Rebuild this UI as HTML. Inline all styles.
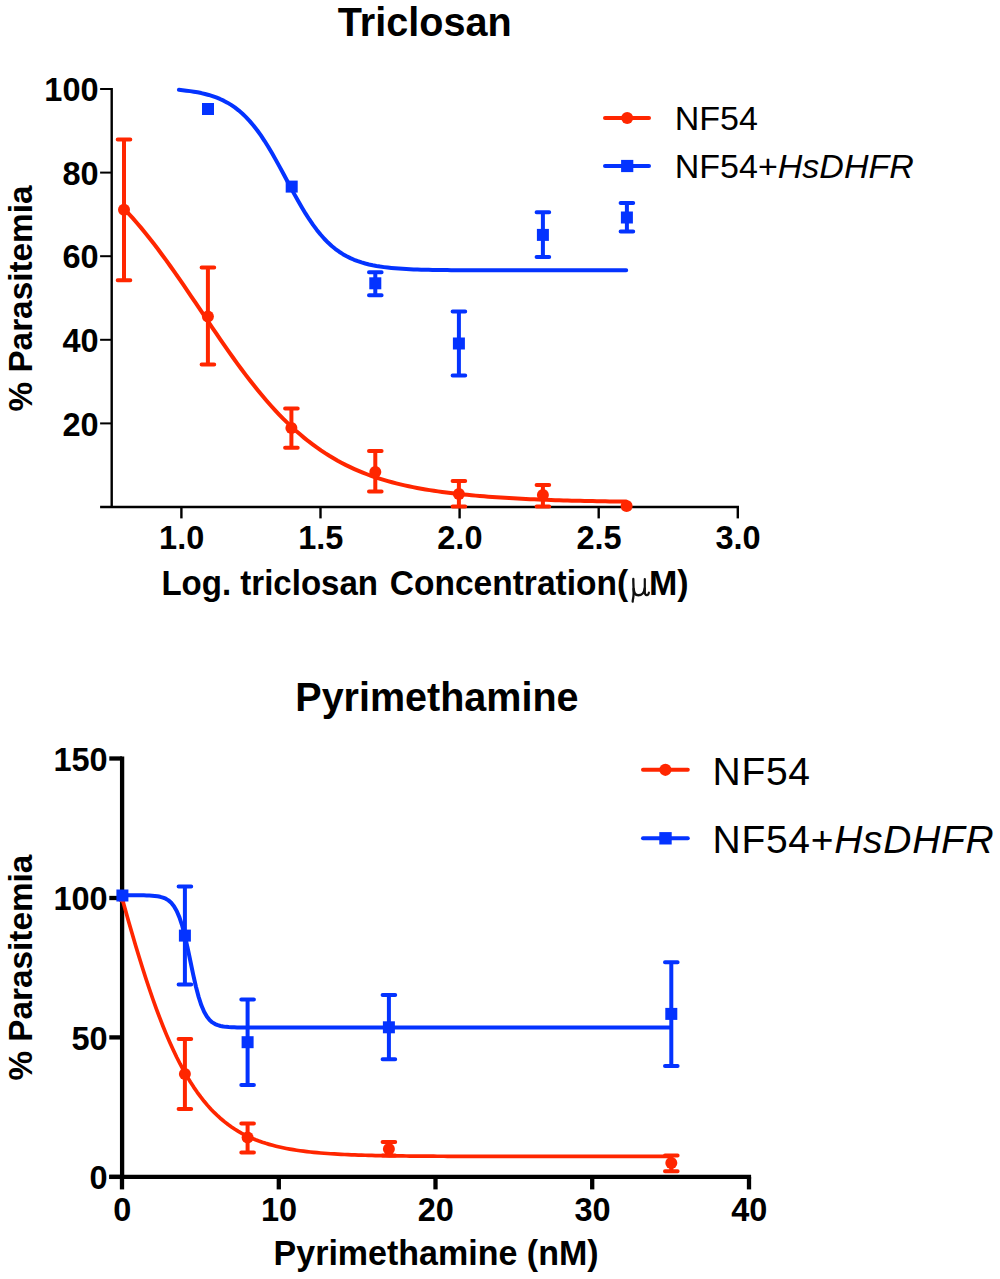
<!DOCTYPE html>
<html><head><meta charset="utf-8"><title>Dose response</title>
<style>
html,body{margin:0;padding:0;background:#fff;}
svg{display:block;font-family:"Liberation Sans",sans-serif;}
</style></head><body>
<svg width="1000" height="1279" viewBox="0 0 1000 1279">
<rect width="1000" height="1279" fill="#fff"/>
<path d="M111.7,88.0 V508.2 M100.1,507.0 H739" stroke="#000" stroke-width="2.4" fill="none"/>
<path d="M100.1,423.4 H111.7" stroke="#000" stroke-width="2"/>
<text x="98.6" y="435.5" font-size="32.5" font-weight="bold" text-anchor="end" >20</text>
<path d="M100.1,339.8 H111.7" stroke="#000" stroke-width="2"/>
<text x="98.6" y="351.9" font-size="32.5" font-weight="bold" text-anchor="end" >40</text>
<path d="M100.1,256.2 H111.7" stroke="#000" stroke-width="2"/>
<text x="98.6" y="268.3" font-size="32.5" font-weight="bold" text-anchor="end" >60</text>
<path d="M100.1,172.6 H111.7" stroke="#000" stroke-width="2"/>
<text x="98.6" y="184.7" font-size="32.5" font-weight="bold" text-anchor="end" >80</text>
<path d="M100.1,89.0 H111.7" stroke="#000" stroke-width="2"/>
<text x="98.6" y="101.1" font-size="32.5" font-weight="bold" text-anchor="end" >100</text>
<path d="M181.4,507.0 V518.4" stroke="#000" stroke-width="2.4"/>
<text x="181.7" y="549.0" font-size="32.5" font-weight="bold" text-anchor="middle" >1.0</text>
<path d="M320.5,507.0 V518.4" stroke="#000" stroke-width="2.4"/>
<text x="320.8" y="549.0" font-size="32.5" font-weight="bold" text-anchor="middle" >1.5</text>
<path d="M459.6,507.0 V518.4" stroke="#000" stroke-width="2.4"/>
<text x="459.9" y="549.0" font-size="32.5" font-weight="bold" text-anchor="middle" >2.0</text>
<path d="M598.7,507.0 V518.4" stroke="#000" stroke-width="2.4"/>
<text x="599.0" y="549.0" font-size="32.5" font-weight="bold" text-anchor="middle" >2.5</text>
<path d="M737.8,507.0 V518.4" stroke="#000" stroke-width="2.4"/>
<text x="738.1" y="549.0" font-size="32.5" font-weight="bold" text-anchor="middle" >3.0</text>
<text x="424.7" y="35.8" font-size="41" font-weight="bold" text-anchor="middle" textLength="173.8" lengthAdjust="spacingAndGlyphs">Triclosan</text>
<text x="161.4" y="595.4" font-size="34.5" font-weight="bold" text-anchor="start" textLength="216.6" lengthAdjust="spacingAndGlyphs">Log. triclosan</text>
<text x="389.8" y="595.4" font-size="34.5" font-weight="bold" text-anchor="start" textLength="238.3" lengthAdjust="spacingAndGlyphs">Concentration(</text>
<g fill="none" stroke="#111" stroke-linecap="round" stroke-linejoin="round"><path d="M633.3,579 C633.3,586 634.2,594 633.2,598 C632.9,599.6 632.6,600.8 632.7,601.6" stroke-width="2.3"/><path d="M633.7,589 C633.9,593.4 635.6,595.2 638.3,595.2 C641.6,595.2 644.3,592.6 644.7,588.5" stroke-width="2.5"/><path d="M644.8,579 L644.8,591.5 C644.8,594.4 645.7,595.3 646.9,595.2 C648,595.1 648.6,594.2 648.9,592.6" stroke-width="2.2"/></g>
<text x="649.0" y="595.4" font-size="34.5" font-weight="bold" text-anchor="start" textLength="39.6" lengthAdjust="spacingAndGlyphs">M)</text>
<text transform="translate(32,298.5) rotate(-90)" font-size="34" font-weight="bold" text-anchor="middle" textLength="226" lengthAdjust="spacingAndGlyphs">% Parasitemia</text>
<path d="M124.41,209.03 L128.59,213.52 L132.77,218.16 L136.95,222.95 L141.14,227.90 L145.32,232.99 L149.50,238.22 L153.68,243.58 L157.86,249.08 L162.04,254.69 L166.23,260.41 L170.41,266.24 L174.59,272.16 L178.77,278.16 L182.95,284.23 L187.13,290.35 L191.32,296.52 L195.50,302.72 L199.68,308.94 L203.86,315.17 L208.04,321.39 L212.22,327.58 L216.40,333.74 L220.59,339.85 L224.77,345.90 L228.95,351.87 L233.13,357.76 L237.31,363.56 L241.49,369.25 L245.68,374.83 L249.86,380.29 L254.04,385.61 L258.22,390.80 L262.40,395.84 L266.58,400.74 L270.77,405.49 L274.95,410.09 L279.13,414.53 L283.31,418.81 L287.49,422.93 L291.67,426.90 L295.85,430.71 L300.04,434.36 L304.22,437.86 L308.40,441.21 L312.58,444.41 L316.76,447.47 L320.94,450.38 L325.13,453.16 L329.31,455.80 L333.49,458.31 L337.67,460.70 L341.85,462.96 L346.03,465.11 L350.22,467.14 L354.40,469.07 L358.58,470.89 L362.76,472.62 L366.94,474.25 L371.12,475.79 L375.31,477.25 L379.49,478.62 L383.67,479.91 L387.85,481.13 L392.03,482.29 L396.21,483.37 L400.39,484.39 L404.58,485.35 L408.76,486.26 L412.94,487.12 L417.12,487.93 L421.30,488.69 L425.48,489.42 L429.67,490.10 L433.85,490.75 L438.03,491.37 L442.21,491.95 L446.39,492.50 L450.57,493.02 L454.76,493.51 L458.94,493.98 L463.12,494.42 L467.30,494.84 L471.48,495.24 L475.66,495.62 L479.84,495.98 L484.03,496.32 L488.21,496.65 L492.39,496.95 L496.57,497.25 L500.75,497.53 L504.93,497.79 L509.12,498.05 L513.30,498.29 L517.48,498.51 L521.66,498.73 L525.84,498.94 L530.02,499.14 L534.21,499.32 L538.39,499.50 L542.57,499.67 L546.75,499.83 L550.93,499.99 L555.11,500.13 L559.29,500.27 L563.48,500.40 L567.66,500.52 L571.84,500.64 L576.02,500.75 L580.20,500.85 L584.38,500.95 L588.57,501.04 L592.75,501.12 L596.93,501.20 L601.11,501.27 L605.29,501.33 L609.47,501.39 L613.66,501.44 L617.84,501.49 L622.02,501.53 L626.20,501.56" stroke="#ff2600" stroke-width="4" fill="none" stroke-linecap="round" stroke-linejoin="round"/>
<path d="M178.90,89.86 L182.63,90.22 L186.35,90.64 L190.08,91.12 L193.81,91.68 L197.54,92.33 L201.26,93.08 L204.99,93.95 L208.72,94.95 L212.45,96.10 L216.17,97.42 L219.90,98.94 L223.63,100.67 L227.36,102.65 L231.08,104.89 L234.81,107.43 L238.54,110.30 L242.27,113.51 L245.99,117.10 L249.72,121.08 L253.45,125.46 L257.18,130.26 L260.90,135.46 L264.63,141.06 L268.36,147.02 L272.09,153.31 L275.81,159.87 L279.54,166.65 L283.27,173.57 L287.00,180.56 L290.72,187.52 L294.45,194.39 L298.18,201.08 L301.91,207.53 L305.63,213.68 L309.36,219.49 L313.09,224.91 L316.82,229.93 L320.54,234.54 L324.27,238.75 L328.00,242.55 L331.73,245.97 L335.45,249.03 L339.18,251.74 L342.91,254.15 L346.64,256.27 L350.36,258.14 L354.09,259.77 L357.82,261.20 L361.55,262.44 L365.27,263.52 L369.00,264.46 L372.73,265.27 L376.46,265.98 L380.18,266.59 L383.91,267.11 L387.64,267.56 L391.37,267.95 L395.09,268.29 L398.82,268.58 L402.55,268.83 L406.28,269.05 L410.00,269.23 L413.73,269.39 L417.46,269.52 L421.19,269.64 L424.91,269.74 L428.64,269.83 L432.37,269.90 L436.10,269.97 L439.82,270.02 L443.55,270.07 L447.28,270.11 L451.01,270.14 L454.73,270.17 L458.46,270.20 L462.19,270.22 L465.92,270.24 L469.64,270.26 L473.37,270.27 L477.10,270.28 L480.83,270.29 L484.55,270.30 L488.28,270.31 L492.01,270.32 L495.74,270.32 L499.46,270.33 L503.19,270.33 L506.92,270.33 L510.65,270.34 L514.37,270.34 L518.10,270.34 L521.83,270.34 L525.56,270.34 L529.28,270.35 L533.01,270.35 L536.74,270.35 L540.47,270.35 L544.19,270.35 L547.92,270.35 L551.65,270.35 L555.38,270.35 L559.10,270.35 L562.83,270.35 L566.56,270.35 L570.29,270.35 L574.01,270.35 L577.74,270.35 L581.47,270.35 L585.20,270.35 L588.92,270.35 L592.65,270.35 L596.38,270.35 L600.11,270.35 L603.83,270.35 L607.56,270.35 L611.29,270.35 L615.02,270.35 L618.74,270.35 L622.47,270.35 L626.20,270.35" stroke="#0433ff" stroke-width="4" fill="none" stroke-linecap="round" stroke-linejoin="round"/>
<path d="M124.0,139.6 V280.2 M117.7,139.6 H130.3 M117.7,280.2 H130.3" stroke="#ff2600" stroke-width="4" fill="none" stroke-linecap="round"/>
<circle cx="124.0" cy="209.7" r="6" fill="#ff2600"/>
<path d="M207.9,267.6 V364.6 M201.6,267.6 H214.2 M201.6,364.6 H214.2" stroke="#ff2600" stroke-width="4" fill="none" stroke-linecap="round"/>
<circle cx="207.9" cy="316.4" r="6" fill="#ff2600"/>
<path d="M291.4,408.4 V447.8 M285.1,408.4 H297.7 M285.1,447.8 H297.7" stroke="#ff2600" stroke-width="4" fill="none" stroke-linecap="round"/>
<circle cx="291.4" cy="428.1" r="6" fill="#ff2600"/>
<path d="M375.3,450.9 V491.6 M369.0,450.9 H381.6 M369.0,491.6 H381.6" stroke="#ff2600" stroke-width="4" fill="none" stroke-linecap="round"/>
<circle cx="375.3" cy="471.9" r="6" fill="#ff2600"/>
<path d="M458.9,480.9 V506.4 M452.6,480.9 H465.2 M452.6,506.4 H465.2" stroke="#ff2600" stroke-width="4" fill="none" stroke-linecap="round"/>
<circle cx="458.9" cy="494.1" r="6" fill="#ff2600"/>
<path d="M542.9,485.1 V506.4 M536.6,485.1 H549.2 M536.6,506.4 H549.2" stroke="#ff2600" stroke-width="4" fill="none" stroke-linecap="round"/>
<circle cx="542.9" cy="495.0" r="6" fill="#ff2600"/>
<circle cx="626.6" cy="506.1" r="6" fill="#ff2600"/>
<rect x="202.0" y="103.0" width="12" height="12" fill="#0433ff"/>
<rect x="285.7" y="180.6" width="12" height="12" fill="#0433ff"/>
<path d="M375.3,272.3 V295.2 M369.0,272.3 H381.6 M369.0,295.2 H381.6" stroke="#0433ff" stroke-width="4" fill="none" stroke-linecap="round"/>
<rect x="369.3" y="277.3" width="12" height="12" fill="#0433ff"/>
<path d="M458.9,311.4 V375.6 M452.6,311.4 H465.2 M452.6,375.6 H465.2" stroke="#0433ff" stroke-width="4" fill="none" stroke-linecap="round"/>
<rect x="452.9" y="337.5" width="12" height="12" fill="#0433ff"/>
<path d="M542.9,212.2 V257.1 M536.6,212.2 H549.2 M536.6,257.1 H549.2" stroke="#0433ff" stroke-width="4" fill="none" stroke-linecap="round"/>
<rect x="536.9" y="228.9" width="12" height="12" fill="#0433ff"/>
<path d="M626.9,203.1 V231.6 M620.6,203.1 H633.2 M620.6,231.6 H633.2" stroke="#0433ff" stroke-width="4" fill="none" stroke-linecap="round"/>
<rect x="620.9" y="211.5" width="12" height="12" fill="#0433ff"/>
<path d="M605,118 H649" stroke="#ff2600" stroke-width="4" stroke-linecap="round"/>
<circle cx="627.2" cy="118.0" r="6" fill="#ff2600"/>
<path d="M605,166 H649" stroke="#0433ff" stroke-width="4" stroke-linecap="round"/>
<rect x="621.1" y="159.9" width="12.2" height="12.2" fill="#0433ff"/>
<text x="674.8" y="129.8" font-size="34" font-weight="normal" text-anchor="start" >NF54</text>
<text x="674.8" y="177.6" font-size="34" font-weight="normal" text-anchor="start" >NF54+<tspan font-style="italic">HsDHFR</tspan></text>
<path d="M122.1,756.4 V1179.1 M109.3,1176.9 H751.1" stroke="#000" stroke-width="4.3" fill="none"/>
<path d="M109.3,1176.9 H122.1" stroke="#000" stroke-width="4.3"/>
<text x="107.7" y="1189.3" font-size="32.5" font-weight="bold" text-anchor="end" >0</text>
<path d="M109.3,1037.4 H122.1" stroke="#000" stroke-width="4.3"/>
<text x="107.7" y="1049.8" font-size="32.5" font-weight="bold" text-anchor="end" >50</text>
<path d="M109.3,898.0 H122.1" stroke="#000" stroke-width="4.3"/>
<text x="107.7" y="910.4" font-size="32.5" font-weight="bold" text-anchor="end" >100</text>
<path d="M109.3,758.5 H122.1" stroke="#000" stroke-width="4.3"/>
<text x="107.7" y="770.9" font-size="32.5" font-weight="bold" text-anchor="end" >150</text>
<path d="M122.0,1176.9 V1189.4" stroke="#000" stroke-width="4.3"/>
<text x="122.3" y="1221.3" font-size="32.5" font-weight="bold" text-anchor="middle" >0</text>
<path d="M278.8,1176.9 V1189.4" stroke="#000" stroke-width="4.3"/>
<text x="279.1" y="1221.3" font-size="32.5" font-weight="bold" text-anchor="middle" >10</text>
<path d="M435.5,1176.9 V1189.4" stroke="#000" stroke-width="4.3"/>
<text x="435.8" y="1221.3" font-size="32.5" font-weight="bold" text-anchor="middle" >20</text>
<path d="M592.2,1176.9 V1189.4" stroke="#000" stroke-width="4.3"/>
<text x="592.5" y="1221.3" font-size="32.5" font-weight="bold" text-anchor="middle" >30</text>
<path d="M749.0,1176.9 V1189.4" stroke="#000" stroke-width="4.3"/>
<text x="749.3" y="1221.3" font-size="32.5" font-weight="bold" text-anchor="middle" >40</text>
<text x="436.9" y="710.6" font-size="41" font-weight="bold" text-anchor="middle" textLength="283.2" lengthAdjust="spacingAndGlyphs">Pyrimethamine</text>
<text x="273.6" y="1264.6" font-size="34.5" font-weight="bold" text-anchor="start" textLength="325" lengthAdjust="spacingAndGlyphs">Pyrimethamine (nM)</text>
<text transform="translate(32,967.6) rotate(-90)" font-size="34" font-weight="bold" text-anchor="middle" textLength="226" lengthAdjust="spacingAndGlyphs">% Parasitemia</text>
<path d="M121.90,897.57 L125.33,909.84 L128.75,921.93 L132.18,933.80 L135.60,945.42 L139.03,956.75 L142.45,967.77 L145.88,978.45 L149.31,988.78 L152.73,998.73 L156.16,1008.30 L159.58,1017.46 L163.01,1026.23 L166.43,1034.58 L169.86,1042.54 L173.28,1050.08 L176.71,1057.23 L180.14,1063.99 L183.56,1070.37 L186.99,1076.38 L190.41,1082.03 L193.84,1087.34 L197.26,1092.31 L200.69,1096.96 L204.12,1101.31 L207.54,1105.38 L210.97,1109.17 L214.39,1112.70 L217.82,1115.98 L221.24,1119.04 L224.67,1121.88 L228.09,1124.52 L231.52,1126.96 L234.95,1129.23 L238.37,1131.33 L241.80,1133.28 L245.22,1135.08 L248.65,1136.74 L252.07,1138.28 L255.50,1139.70 L258.93,1141.02 L262.35,1142.23 L265.78,1143.35 L269.20,1144.38 L272.63,1145.34 L276.05,1146.22 L279.48,1147.03 L282.90,1147.77 L286.33,1148.46 L289.76,1149.10 L293.18,1149.68 L296.61,1150.22 L300.03,1150.72 L303.46,1151.17 L306.88,1151.59 L310.31,1151.98 L313.74,1152.34 L317.16,1152.67 L320.59,1152.97 L324.01,1153.25 L327.44,1153.50 L330.86,1153.74 L334.29,1153.95 L337.71,1154.15 L341.14,1154.34 L344.57,1154.51 L347.99,1154.66 L351.42,1154.80 L354.84,1154.94 L358.27,1155.06 L361.69,1155.17 L365.12,1155.27 L368.55,1155.36 L371.97,1155.45 L375.40,1155.53 L378.82,1155.60 L382.25,1155.67 L385.67,1155.73 L389.10,1155.79 L392.52,1155.84 L395.95,1155.89 L399.38,1155.93 L402.80,1155.97 L406.23,1156.01 L409.65,1156.05 L413.08,1156.08 L416.50,1156.11 L419.93,1156.13 L423.36,1156.16 L426.78,1156.18 L430.21,1156.20 L433.63,1156.22 L437.06,1156.24 L440.48,1156.25 L443.91,1156.27 L447.33,1156.28 L450.76,1156.29 L454.19,1156.31 L457.61,1156.32 L461.04,1156.33 L464.46,1156.34 L467.89,1156.34 L471.31,1156.35 L474.74,1156.36 L478.16,1156.36 L481.59,1156.37 L485.02,1156.38 L488.44,1156.38 L491.87,1156.39 L495.29,1156.39 L498.72,1156.39 L502.14,1156.40 L505.57,1156.40 L509.00,1156.40 L512.42,1156.41 L515.85,1156.41 L519.27,1156.41 L522.70,1156.41 L526.12,1156.41 L529.55,1156.42 L532.98,1156.42 L536.40,1156.42 L539.83,1156.42 L543.25,1156.42 L546.68,1156.42 L550.10,1156.43 L553.53,1156.43 L556.95,1156.43 L560.38,1156.43 L563.81,1156.43 L567.23,1156.43 L570.66,1156.43 L574.08,1156.43 L577.51,1156.43 L580.93,1156.43 L584.36,1156.43 L587.78,1156.43 L591.21,1156.43 L594.64,1156.43 L598.06,1156.43 L601.49,1156.43 L604.91,1156.43 L608.34,1156.43 L611.76,1156.43 L615.19,1156.44 L618.62,1156.44 L622.04,1156.44 L625.47,1156.44 L628.89,1156.44 L632.32,1156.44 L635.74,1156.44 L639.17,1156.44 L642.60,1156.44 L646.02,1156.44 L649.45,1156.44 L652.87,1156.44 L656.30,1156.44 L659.72,1156.44 L663.15,1156.44 L666.57,1156.44 L670.00,1156.44" stroke="#ff2600" stroke-width="3.7" fill="none" stroke-linecap="round" stroke-linejoin="round"/>
<path d="M121.90,895.22 L124.64,895.23 L127.38,895.23 L130.12,895.24 L132.86,895.25 L135.60,895.26 L138.34,895.28 L141.08,895.31 L143.82,895.36 L146.56,895.43 L149.31,895.54 L152.05,895.70 L154.79,895.94 L157.53,896.29 L160.27,896.81 L163.01,897.58 L165.75,898.72 L168.49,900.37 L171.23,902.76 L173.97,906.17 L176.71,910.92 L179.45,917.36 L182.19,925.75 L184.93,936.13 L187.67,948.21 L190.41,961.28 L193.15,974.36 L195.89,986.46 L198.63,996.88 L201.37,1005.30 L204.12,1011.78 L206.86,1016.56 L209.60,1019.99 L212.34,1022.40 L215.08,1024.06 L217.82,1025.20 L220.56,1025.98 L223.30,1026.51 L226.04,1026.86 L228.78,1027.10 L231.52,1027.26 L234.26,1027.37 L237.00,1027.44 L239.74,1027.49 L242.48,1027.52 L245.22,1027.54 L247.96,1027.56 L250.70,1027.57 L253.44,1027.57 L256.18,1027.58 L258.93,1027.58 L261.67,1027.58 L264.41,1027.58 L267.15,1027.58 L269.89,1027.58 L272.63,1027.58 L275.37,1027.59 L278.11,1027.59 L280.85,1027.59 L283.59,1027.59 L286.33,1027.59 L289.07,1027.59 L291.81,1027.59 L294.55,1027.59 L297.29,1027.59 L300.03,1027.59 L302.77,1027.59 L305.51,1027.59 L308.25,1027.59 L310.99,1027.59 L313.74,1027.59 L316.48,1027.59 L319.22,1027.59 L321.96,1027.59 L324.70,1027.59 L327.44,1027.59 L330.18,1027.59 L332.92,1027.59 L335.66,1027.59 L338.40,1027.59 L341.14,1027.59 L343.88,1027.59 L346.62,1027.59 L349.36,1027.59 L352.10,1027.59 L354.84,1027.59 L357.58,1027.59 L360.32,1027.59 L363.06,1027.59 L365.80,1027.59 L368.55,1027.59 L371.29,1027.59 L374.03,1027.59 L376.77,1027.59 L379.51,1027.59 L382.25,1027.59 L384.99,1027.59 L387.73,1027.59 L390.47,1027.59 L393.21,1027.59 L395.95,1027.59 L398.69,1027.59 L401.43,1027.59 L404.17,1027.59 L406.91,1027.59 L409.65,1027.59 L412.39,1027.59 L415.13,1027.59 L417.87,1027.59 L420.61,1027.59 L423.36,1027.59 L426.10,1027.59 L428.84,1027.59 L431.58,1027.59 L434.32,1027.59 L437.06,1027.59 L439.80,1027.59 L442.54,1027.59 L445.28,1027.59 L448.02,1027.59 L450.76,1027.59 L453.50,1027.59 L456.24,1027.59 L458.98,1027.59 L461.72,1027.59 L464.46,1027.59 L467.20,1027.59 L469.94,1027.59 L472.68,1027.59 L475.42,1027.59 L478.16,1027.59 L480.91,1027.59 L483.65,1027.59 L486.39,1027.59 L489.13,1027.59 L491.87,1027.59 L494.61,1027.59 L497.35,1027.59 L500.09,1027.59 L502.83,1027.59 L505.57,1027.59 L508.31,1027.59 L511.05,1027.59 L513.79,1027.59 L516.53,1027.59 L519.27,1027.59 L522.01,1027.59 L524.75,1027.59 L527.49,1027.59 L530.23,1027.59 L532.98,1027.59 L535.72,1027.59 L538.46,1027.59 L541.20,1027.59 L543.94,1027.59 L546.68,1027.59 L549.42,1027.59 L552.16,1027.59 L554.90,1027.59 L557.64,1027.59 L560.38,1027.59 L563.12,1027.59 L565.86,1027.59 L568.60,1027.59 L571.34,1027.59 L574.08,1027.59 L576.82,1027.59 L579.56,1027.59 L582.30,1027.59 L585.04,1027.59 L587.78,1027.59 L590.53,1027.59 L593.27,1027.59 L596.01,1027.59 L598.75,1027.59 L601.49,1027.59 L604.23,1027.59 L606.97,1027.59 L609.71,1027.59 L612.45,1027.59 L615.19,1027.59 L617.93,1027.59 L620.67,1027.59 L623.41,1027.59 L626.15,1027.59 L628.89,1027.59 L631.63,1027.59 L634.37,1027.59 L637.11,1027.59 L639.85,1027.59 L642.60,1027.59 L645.34,1027.59 L648.08,1027.59 L650.82,1027.59 L653.56,1027.59 L656.30,1027.59 L659.04,1027.59 L661.78,1027.59 L664.52,1027.59 L667.26,1027.59 L670.00,1027.59" stroke="#0433ff" stroke-width="4" fill="none" stroke-linecap="round" stroke-linejoin="round"/>
<path d="M184.9,1039.1 V1109.0 M178.6,1039.1 H191.2 M178.6,1109.0 H191.2" stroke="#ff2600" stroke-width="4" fill="none" stroke-linecap="round"/>
<circle cx="184.9" cy="1073.9" r="6" fill="#ff2600"/>
<path d="M247.6,1123.4 V1152.5 M241.3,1123.4 H253.9 M241.3,1152.5 H253.9" stroke="#ff2600" stroke-width="4" fill="none" stroke-linecap="round"/>
<circle cx="247.6" cy="1137.5" r="6" fill="#ff2600"/>
<path d="M388.9,1142.0 V1155.5 M382.6,1142.0 H395.2 M382.6,1155.5 H395.2" stroke="#ff2600" stroke-width="4" fill="none" stroke-linecap="round"/>
<circle cx="388.9" cy="1148.9" r="6" fill="#ff2600"/>
<path d="M671.3,1155.4 V1171.2 M665.0,1155.4 H677.6 M665.0,1171.2 H677.6" stroke="#ff2600" stroke-width="4" fill="none" stroke-linecap="round"/>
<circle cx="671.3" cy="1163.0" r="6" fill="#ff2600"/>
<circle cx="122.0" cy="897.5" r="5" fill="#ff2600"/>
<path d="M184.9,886.4 V984.5 M178.6,886.4 H191.2 M178.6,984.5 H191.2" stroke="#0433ff" stroke-width="4" fill="none" stroke-linecap="round"/>
<rect x="178.9" y="929.6" width="12" height="12" fill="#0433ff"/>
<path d="M247.6,999.5 V1085.0 M241.3,999.5 H253.9 M241.3,1085.0 H253.9" stroke="#0433ff" stroke-width="4" fill="none" stroke-linecap="round"/>
<rect x="241.6" y="1036.2" width="12" height="12" fill="#0433ff"/>
<path d="M388.9,995.0 V1059.2 M382.6,995.0 H395.2 M382.6,1059.2 H395.2" stroke="#0433ff" stroke-width="4" fill="none" stroke-linecap="round"/>
<rect x="382.9" y="1021.3" width="12" height="12" fill="#0433ff"/>
<path d="M671.3,962.3 V1066.0 M665.0,962.3 H677.6 M665.0,1066.0 H677.6" stroke="#0433ff" stroke-width="4" fill="none" stroke-linecap="round"/>
<rect x="665.3" y="1007.9" width="12" height="12" fill="#0433ff"/>
<rect x="116.4" y="889.5" width="12" height="12" fill="#0433ff"/>
<path d="M643,769.8 H687.8" stroke="#ff2600" stroke-width="4" stroke-linecap="round"/>
<circle cx="665.4" cy="769.8" r="6.1" fill="#ff2600"/>
<path d="M643,838.2 H687.8" stroke="#0433ff" stroke-width="4" stroke-linecap="round"/>
<rect x="659.3" y="832.1" width="12.4" height="12.4" fill="#0433ff"/>
<text x="712.6" y="785.0" font-size="39" font-weight="normal" text-anchor="start" letter-spacing="0.7">NF54</text>
<text x="712.6" y="852.8" font-size="39" font-weight="normal" text-anchor="start" letter-spacing="0.7">NF54+<tspan font-style="italic">HsDHFR</tspan></text>
</svg>
</body></html>
